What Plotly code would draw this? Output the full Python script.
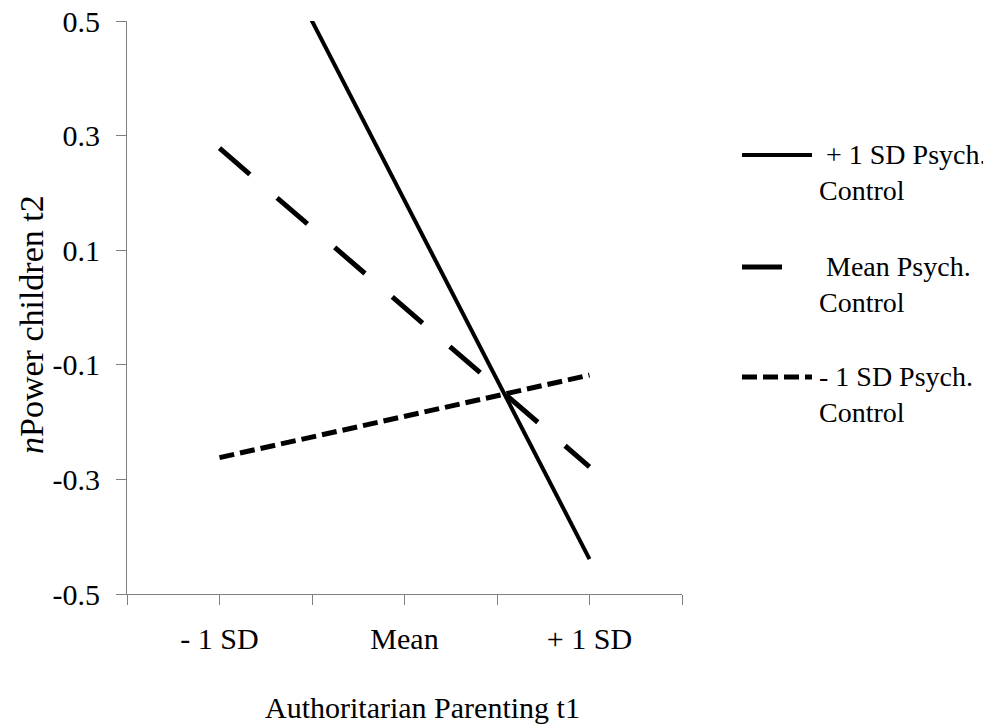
import plotly.graph_objects as go

# ---- data ----
categories = ["- 1 SD", "Mean", "+ 1 SD"]
x_pos = [-1, 0, 1]
plus1sd_psych = [0.813, 0.187, -0.439]     # + 1 SD Psych. Control (solid)
mean_psych = [0.278, 0.0, -0.278]          # Mean Psych. Control (long dash)
minus1sd_psych = [-0.262, -0.190, -0.118]  # - 1 SD Psych. Control (short dash)
y_ticks = [-0.5, -0.3, -0.1, 0.1, 0.3, 0.5]
y_tick_labels = ["-0.5", "-0.3", "-0.1", "0.1", "0.3", "0.5"]
legend_labels = ["\u00a0+ 1 SD Psych.<br>Control", "\u00a0Mean Psych.<br>Control", "- 1 SD Psych.<br>Control"]

FONT = "Liberation Serif"
W, H = 991, 724
OFF = 8  # page body margin offset
# plot area in screen pixels: x 127..682, y 21..594
L = 127 - OFF
T = 21 - OFF
R = W - (682 - OFF)
B = H - (594 - OFF)
PW, PH = W - L - R, H - T - B

def px(x):
    return (x - OFF - L) / PW

def py(y):
    return (H - B - (y - OFF)) / PH

dash_long = "40px,36px"
dash_short = "15px,6px"

fig = go.Figure()
fig.add_trace(go.Scatter(x=x_pos, y=plus1sd_psych, mode="lines",
                         line=dict(color="black", width=4), showlegend=False))
fig.add_trace(go.Scatter(x=x_pos, y=mean_psych, mode="lines",
                         line=dict(color="black", width=5, dash=dash_long), showlegend=False))
fig.add_trace(go.Scatter(x=x_pos, y=minus1sd_psych, mode="lines",
                         line=dict(color="black", width=5, dash=dash_short), showlegend=False))

# x ticks at categories and between them
xt_vals = [-1.5, -1, -0.5, 0, 0.5, 1, 1.5]
xt_text = ["", categories[0], "", categories[1], "", categories[2], ""]

axis_col = "#7f7f7f"
fig.update_xaxes(range=[-1.5, 1.5], tickvals=xt_vals, ticktext=xt_text,
                 showgrid=False, zeroline=False, showline=True, linecolor=axis_col,
                 linewidth=1, ticks="outside", ticklen=10, tickcolor=axis_col,
                 tickfont=dict(family=FONT, size=30, color="black"),
                 ticklabelstandoff=8, automargin=False, ticklabeloverflow="allow")
fig.update_yaxes(range=[-0.5, 0.5], tickvals=y_ticks, ticktext=y_tick_labels,
                 showgrid=False, zeroline=False, showline=True, linecolor=axis_col,
                 linewidth=1, ticks="outside", ticklen=10, tickcolor=axis_col,
                 tickfont=dict(family=FONT, size=30, color="black"),
                 ticklabelstandoff=10, automargin=False, ticklabeloverflow="allow")

# manual legend
legend_rows = [155, 267, 377]
legend_dash = [None, dash_long, dash_short]
legend_width = [4, 5, 5]
legend_x_end = [812, 782, 812]
shapes = []
annotations = []
for i, yy in enumerate(legend_rows):
    line = dict(color="black", width=legend_width[i])
    if legend_dash[i]:
        line["dash"] = legend_dash[i]
    shapes.append(dict(type="line", xref="paper", yref="paper",
                       x0=px(742), x1=px(legend_x_end[i]), y0=py(yy), y1=py(yy), line=line))
    annotations.append(dict(xref="paper", yref="paper", x=px(817), y=py(yy + 17.5),
                            xanchor="left", yanchor="middle", align="left", showarrow=False,
                            text=legend_labels[i],
                            font=dict(family=FONT, size=28, color="black")))

annotations.append(dict(xref="paper", yref="paper", x=px(31), y=py(325), textangle=-90,
                        xanchor="center", yanchor="middle", showarrow=False,
                        text="<i>n</i>Power children t2",
                        font=dict(family=FONT, size=34, color="black")))
annotations.append(dict(xref="paper", yref="paper", x=px(422), y=py(707),
                        xanchor="center", yanchor="middle", showarrow=False,
                        text="Authoritarian Parenting t1",
                        font=dict(family=FONT, size=30, color="black")))

fig.update_layout(width=W, height=H, margin=dict(l=L, r=R, t=T, b=B, autoexpand=False),
                  paper_bgcolor="white", plot_bgcolor="white",
                  shapes=shapes, annotations=annotations, showlegend=False)

fig.write_html("out.html")
